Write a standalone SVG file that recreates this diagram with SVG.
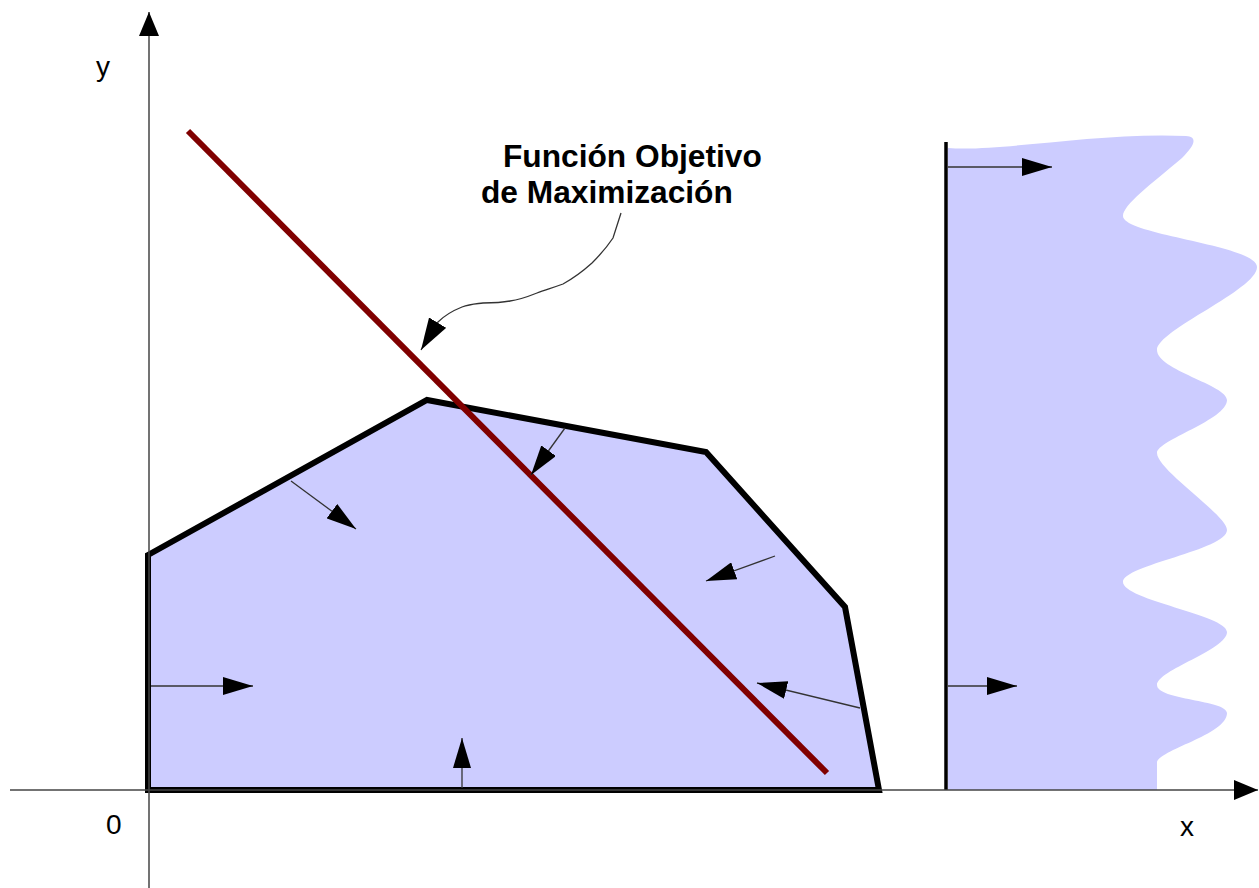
<svg xmlns="http://www.w3.org/2000/svg" width="1259" height="888" viewBox="0 0 1259 888">
<style>
.axis{stroke:#444;stroke-width:1.5;fill:none}
.thin{stroke:#333;stroke-width:1.3;fill:none}
.bound{stroke:#000;stroke-width:6;fill:#ccccff;stroke-linejoin:miter}
.txt{font-family:"Liberation Sans",Arial,sans-serif;font-size:28px;fill:#000}
.lbl{font-family:"Liberation Sans",Arial,sans-serif;font-size:31.7px;font-weight:bold;fill:#000}
</style>
<defs>
<marker id="ah" viewBox="0 0 30 18" refX="30" refY="9" markerWidth="30" markerHeight="18" markerUnits="userSpaceOnUse" orient="auto">
<path d="M0,0 L30,9 L0,18 Z" fill="#000"/>
</marker>
<marker id="axh" viewBox="0 0 24 20" refX="24" refY="10" markerWidth="24" markerHeight="20" markerUnits="userSpaceOnUse" orient="auto">
<path d="M0,0 L24,10 L0,20 Z" fill="#000"/>
</marker>
<marker id="lh" viewBox="0 0 32 20" refX="32" refY="10" markerWidth="32" markerHeight="20" markerUnits="userSpaceOnUse" orient="auto">
<path d="M0,0 L32,10 L0,20 Z" fill="#000"/>
</marker>
</defs>
<rect width="1259" height="888" fill="#fff"/>
<g id="region-right">
<path d="M948,148 C1000,152 1100,132 1186,136 C1200,137 1192,148 1182,158 C1150,185 1123,205 1123,216 C1123,235 1257,245 1257,267 C1257,290 1157,330 1157,350 C1157,370 1227,385 1227,400 C1227,420 1157,440 1157,453 C1157,470 1227,515 1227,530 C1227,550 1123,565 1123,582 C1123,600 1227,615 1227,632 C1227,650 1157,670 1157,685 C1157,700 1227,700 1227,713 C1227,735 1157,750 1157,763 L1157,790 L948,790 Z" fill="#ccccff"/>
<line x1="946" y1="142" x2="946" y2="790" stroke="#000" stroke-width="3.5"/>
</g>
<g id="feasible-region">
<polygon class="bound" points="148,555 427,400 706,452 845,607 879,790 148,790"/>
</g>
<g id="axes">
<line class="axis" x1="149" y1="888" x2="149" y2="12" marker-end="url(#axh)"/>
<line class="axis" x1="10" y1="790" x2="1258" y2="790" marker-end="url(#axh)"/>
</g>
<g id="objective-line">
<line x1="188" y1="131" x2="827" y2="773" stroke="#800000" stroke-width="6"/>
</g>
<g id="connectors">
<line class="thin" x1="291" y1="481" x2="356" y2="529" marker-end="url(#ah)"/>
<line class="thin" x1="565" y1="428" x2="531" y2="475" marker-end="url(#ah)"/>
<line class="thin" x1="775" y1="556" x2="706" y2="581" marker-end="url(#ah)"/>
<line class="thin" x1="860" y1="708" x2="757" y2="683" marker-end="url(#ah)"/>
<line class="thin" x1="151" y1="686" x2="253" y2="686" marker-end="url(#ah)"/>
<line class="thin" x1="462" y1="788" x2="462" y2="738" marker-end="url(#ah)"/>
<line class="thin" x1="948" y1="167" x2="1052" y2="167" marker-end="url(#ah)"/>
<line class="thin" x1="948" y1="686" x2="1017" y2="686" marker-end="url(#ah)"/>
<path class="thin" d="M621,213 L613,238 C605,250 598,257 592,263 C582,272 572,279 563,284 C552,288 545,290 537,293 C527,297 518,300 510,301 C500,303 492,303 483,303 C475,304 470,304 462,307 C452,311 444,316 438,322 L421,350" marker-end="url(#lh)"/>
</g>
<g id="labels">
<text class="txt" x="96" y="76">y</text>
<text class="txt" x="106" y="834">0</text>
<text class="txt" x="1180" y="836">x</text>
<text class="lbl" x="503" y="167">Función Objetivo</text>
<text class="lbl" x="481" y="203">de Maximización</text>
</g>
</svg>
